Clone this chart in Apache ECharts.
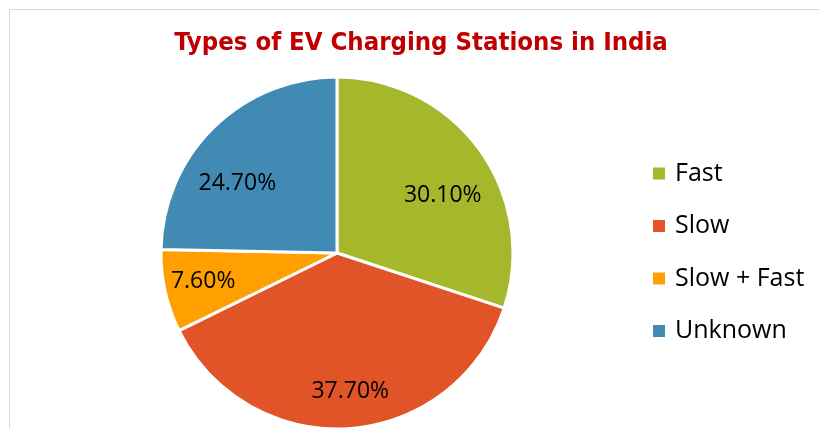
<!DOCTYPE html>
<html>
<head>
<meta charset="utf-8">
<script src="https://cdn.jsdelivr.net/npm/echarts@6/dist/echarts.min.js"></script>
<style>
  html, body { margin: 0; padding: 0; background: #fff; }
  #chart { width: 819px; height: 428px; }
</style>
</head>
<body>
<div id="chart"></div>
<script>
const categories = ["Fast", "Slow", "Slow + Fast", "Unknown"];
const shares = [30.1, 37.7, 7.6, 24.7];
const colors = ["#A5B72A", "#E05427", "#FFA000", "#418AB3"];

// label nudges away from the default "inside" spot, to sit where Excel put them
const labelOffsets = [[32, -4], [7, 48], [-45, 9], [-36, -5]];

const chart = echarts.init(document.getElementById("chart"), null, { renderer: "canvas" });

chart.setOption({
    animation: false,
    backgroundColor: "#fff",
    title: {
        text: "Types of EV Charging Stations in India",
        left: 416,
        top: 25,
        textAlign: "center",
        textStyle: {
            fontFamily: "'Liberation Sans Narrow', 'DejaVu Sans Condensed', sans-serif",
            fontWeight: "bold",
            fontSize: 25.5,
            color: "#C00000",
        },
    },
    graphic: [
        {
            type: "rect",
            shape: { x: 9.5, y: 9.5, width: 1000, height: 1000 },
            style: { fill: null, stroke: "#D9D9D9", lineWidth: 1 },
            silent: true,
            z: -1,
        },
    ],
    legend: {
        orient: "vertical",
        left: 653,
        top: 161,
        padding: 0,
        itemWidth: 12,
        itemHeight: 12,
        itemGap: 27.5,
        icon: "rect",
        itemStyle: { borderWidth: 0 },
        textStyle: {
            fontFamily: "'Open Sans', sans-serif",
            fontSize: 25,
            lineHeight: 24,
            color: "#000",
            padding: [0, 0, 0, 5],
        },
        data: categories,
    },
    series: [
        {
            type: "pie",
            center: [337, 253],
            radius: 176,
            startAngle: 90,
            clockwise: true,
            avoidLabelOverlap: false,
            silent: true,
            itemStyle: { borderColor: "#fff", borderWidth: 3 },
            label: {
                show: true,
                position: "inside",
                fontFamily: "'Open Sans', sans-serif",
                fontSize: 23,
                color: "#000",
                formatter: (p) => p.value.toFixed(2) + "%",
            },
            labelLine: { show: false },
            data: categories.map((name, i) => ({
                name: name,
                value: shares[i],
                itemStyle: { color: colors[i] },
                label: { offset: labelOffsets[i] },
            })),
        },
    ],
});
</script>
</body>
</html>
